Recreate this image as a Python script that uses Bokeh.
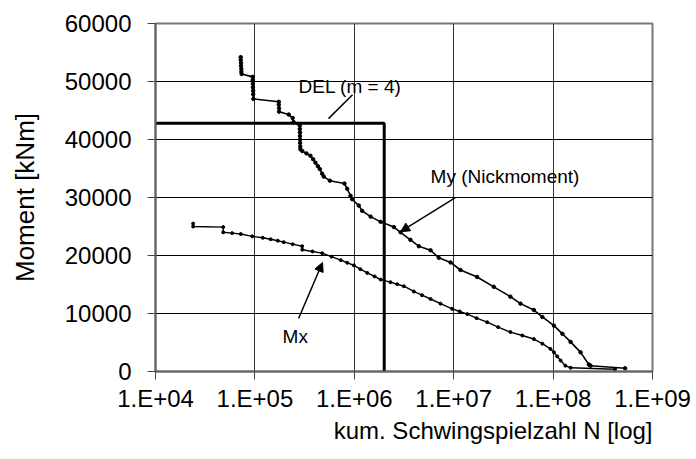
from bokeh.plotting import figure
from bokeh.models import Range1d, FixedTicker, Arrow, NormalHead, Label, Title
from bokeh.embed import file_html
from bokeh.resources import INLINE

# ---- data ----
my_n = [7.2e4, 7.2e4, 7.25e4, 7.25e4, 7.3e4, 7.3e4, 7.35e4,
        9.5e4, 9.5e4, 9.55e4, 9.55e4, 9.6e4, 9.6e4, 9.65e4,
        1.74e5, 1.74e5, 1.75e5, 1.75e5, 2.19e5, 2.40e5, 2.45e5,
        2.83e5, 2.83e5, 2.84e5, 2.84e5, 2.85e5, 2.85e5, 2.86e5, 2.87e5,
        3.0e5, 3.3e5, 3.62e5, 3.85e5, 4.07e5, 4.3e5, 4.5e5, 4.75e5, 4.93e5,
        5.68e5, 7.96e5, 8.49e5, 9.16e5, 9.53e5, 1.11e6, 1.20e6, 1.46e6,
        1.84e6, 2.5e6, 2.92e6, 3.67e6, 4.46e6, 5.85e6, 7.08e6, 9.3e6,
        1.17e7, 1.72e7, 2.53e7, 3.72e7, 4.7e7, 6.4e7, 7.8e7, 1.02e8,
        1.24e8, 1.5e8, 1.89e8, 2.29e8, 2.38e8, 5.3e8]
my_m = [54200, 53700, 53200, 52700, 52200, 51700, 51300,
        50800, 50200, 49600, 49000, 48400, 47800, 47000,
        46500, 46000, 45400, 44800, 44300, 43700, 43000,
        42400, 41800, 41200, 40600, 40000, 39400, 38800, 38300,
        38000, 37600, 37200, 36600, 36000, 35400, 34900, 34100, 33600,
        32900, 32400, 31500, 30300, 29700, 28600, 27700, 26700,
        25800, 24900, 24000, 22700, 21600, 20900, 19600, 18800,
        17500, 16300, 14600, 12900, 11700, 10600, 9400, 7900,
        6500, 5100, 3300, 1200, 1000, 550]

mx_n = [2.39e4, 2.39e4, 4.8e4, 4.8e4, 5.9e4, 7.2e4, 9.4e4, 1.2e5, 1.44e5,
        1.7e5, 1.95e5, 2.4e5, 2.99e5, 3.0e5, 3.8e5, 4.75e5, 5.9e5, 7.3e5,
        8.5e5, 9.9e5, 1.15e6, 1.35e6, 1.6e6, 1.84e6, 2.31e6, 2.7e6, 3.15e6,
        3.97e6, 4.8e6, 5.85e6, 7.36e6, 9.66e6, 1.15e7, 1.37e7, 1.7e7, 2.17e7,
        2.8e7, 3.72e7, 4.9e7, 6.4e7, 7.8e7, 9.4e7, 1.02e8, 1.1e8, 1.19e8,
        1.33e8, 1.5e8, 4.2e8]
mx_m = [25500, 25000, 24900, 24000, 23850, 23700, 23300, 23050, 22800,
        22550, 22300, 21950, 21600, 21000, 20700, 20400, 19800, 19200,
        18750, 18300, 17650, 17000, 16400, 15850, 15400, 15050, 14700,
        13800, 13150, 12500, 11700, 10800, 10350, 9900, 9200, 8500,
        7650, 6800, 6200, 5600, 4800, 3900, 3300, 2600, 1900,
        1000, 640, 400]

del_n = 2.0e6
del_m = 42800

x_ticks = [1e4, 1e5, 1e6, 1e7, 1e8, 1e9]
x_tick_labels = ["1.E+04", "1.E+05", "1.E+06", "1.E+07", "1.E+08", "1.E+09"]
y_ticks = [0, 10000, 20000, 30000, 40000, 50000, 60000]
y_tick_labels = ["0", "10000", "20000", "30000", "40000", "50000", "60000"]

FONT = "Liberation Sans"

p = figure(width=696, height=459, x_axis_type="log",
           x_range=Range1d(1e4, 1e9), y_range=Range1d(0, 60000),
           output_backend="svg", toolbar_location=None,
           min_border_left=155, min_border_right=44,
           min_border_top=23, min_border_bottom=88)
p.background_fill_color = "white"
p.border_fill_color = "white"
p.outline_line_color = "#777777"
p.outline_line_width = 2

# axes
for ax in (p.xaxis[0], p.yaxis[0]):
    ax.axis_line_color = "#666666"
    ax.axis_line_width = 2
    ax.major_tick_line_color = "#444444"
    ax.major_tick_out = 8
    ax.major_tick_in = 0
    ax.minor_tick_out = 0
    ax.minor_tick_in = 0
    ax.major_label_text_font = FONT
    ax.major_label_text_font_size = "24px"
    ax.major_label_text_color = "black"

p.xaxis.ticker = FixedTicker(ticks=x_ticks, minor_ticks=[])
p.xaxis.major_label_overrides = {t: l for t, l in zip(x_ticks, x_tick_labels)}
p.xaxis.major_label_standoff = 5
p.yaxis.ticker = FixedTicker(ticks=y_ticks, minor_ticks=[])
p.yaxis.major_label_overrides = {t: l for t, l in zip(y_ticks, y_tick_labels)}
p.yaxis.major_label_standoff = 16

p.yaxis.axis_label = "Moment [kNm]"
p.yaxis.axis_label_text_font = FONT
p.yaxis.axis_label_text_font_size = "26px"
p.yaxis.axis_label_text_font_style = "normal"
p.yaxis.axis_label_text_color = "black"
p.yaxis.axis_label_standoff = 22

p.add_layout(Title(text="kum. Schwingspielzahl N [log]", align="right",
                   text_font=FONT, text_font_size="24px",
                   text_font_style="normal", text_color="black",
                   standoff=0), "below")

# grid
p.ygrid.grid_line_color = "black"
p.ygrid.grid_line_width = 1
p.xgrid.grid_line_color = "#333333"
p.xgrid.grid_line_width = 1

# series
p.line(my_n, my_m, line_color="black", line_width=1.6)
p.scatter(my_n, my_m, size=3.5, color="black")
p.line(mx_n, mx_m, line_color="black", line_width=1.4)
p.scatter(mx_n, mx_m, size=3, color="black")

# DEL line
p.line([1e4, del_n, del_n], [del_m, del_m, 0], line_color="black", line_width=3)

# annotations
p.add_layout(Arrow(end=None, x_start=5.5e5, y_start=43600, x_end=9.6e5, y_end=47700,
                   line_color="black", line_width=1.5))
p.add_layout(Arrow(end=NormalHead(size=9, fill_color="black", line_color="black"),
                   x_start=1.04e7, y_start=29980, x_end=2.92e6, y_end=24100,
                   line_color="black", line_width=1.5))
p.add_layout(Arrow(end=NormalHead(size=9, fill_color="black", line_color="black"),
                   x_start=2.75e5, y_start=9130, x_end=4.79e5, y_end=18800,
                   line_color="black", line_width=1.5))

def lab(x, y, text, size, **kw):
    p.add_layout(Label(x=x, y=y, text=text, text_font=FONT, text_font_size=size,
                       text_color="black", **kw))

lab(2.75e5, 49100, "DEL (m = 4)", "19px", text_baseline="middle")
lab(5.85e6, 33600, "My (Nickmoment)", "19px", text_baseline="middle")
lab(1.9e5, 6030, "Mx", "19px", text_baseline="middle")

open("out.html", "w").write(file_html(p, INLINE))
